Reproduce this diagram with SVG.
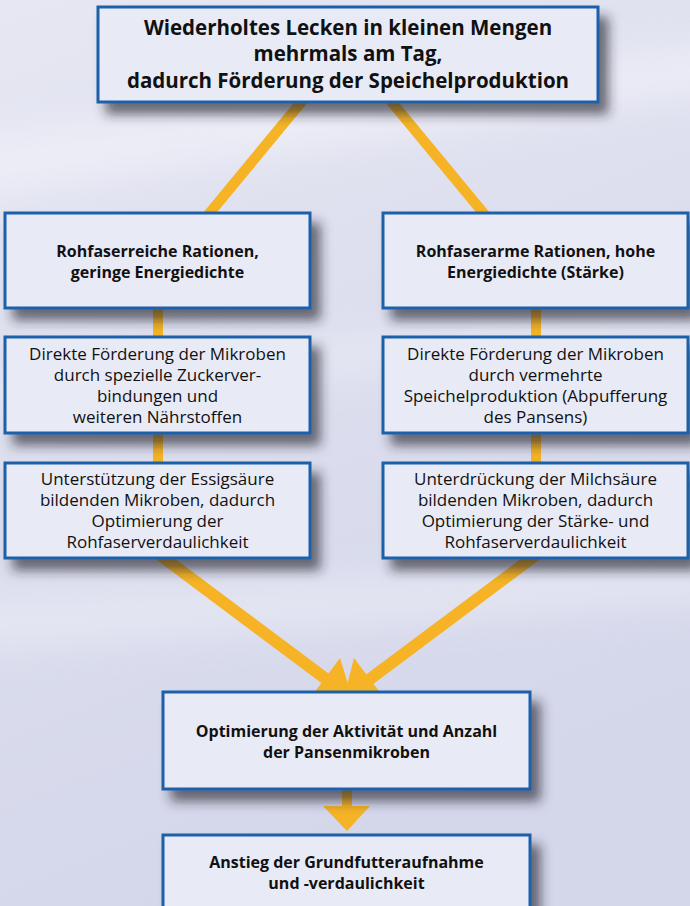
<svg xmlns="http://www.w3.org/2000/svg" width="690" height="906" viewBox="0 0 690 906">
<defs>
  <linearGradient id="bg" x1="0" y1="0" x2="0.3" y2="1">
    <stop offset="0" stop-color="#e6e7f2"/>
    <stop offset="0.5" stop-color="#dcdeee"/>
    <stop offset="1" stop-color="#d4d7ea"/>
  </linearGradient>
  <filter id="blur" x="-20%" y="-20%" width="140%" height="140%">
    <feGaussianBlur stdDeviation="18"/>
  </filter>
  <filter id="shadow" x="-10%" y="-20%" width="130%" height="160%">
    <feDropShadow dx="9" dy="11" stdDeviation="6" flood-color="#25252f" flood-opacity="0.65"/>
  </filter>
  <style>
    .box { fill: #e8eaf6; stroke: #1b60aa; stroke-width: 3; }
    .conn { fill: #f5b325; stroke: none; }
    .line { stroke: #f5b325; fill: none; }
    text { font-family: "Open Sans", "Noto Sans", "DejaVu Sans", sans-serif; fill: #111; text-anchor: middle; }
    .b { font-weight: bold; font-size: 16px; }
    .r { font-size: 17px; }
    .t { font-weight: bold; font-size: 20.5px; }
  </style>
</defs>

<rect x="0" y="0" width="690" height="906" fill="url(#bg)"/>
<g opacity="0.55" filter="url(#blur)">
  <path d="M-50 140 L740 40 L740 90 L-50 200 Z" fill="#f4f4fa"/>
  <path d="M-50 600 L740 560 L740 600 L-50 650 Z" fill="#eeeff8"/>
  <path d="M-50 380 L740 300 L740 330 L-50 420 Z" fill="#eeeff8"/>
</g>

<g id="connectors">
  <line class="line" x1="303" y1="100" x2="208" y2="215" stroke-width="10.5"/>
  <line class="line" x1="390" y1="100" x2="485" y2="215" stroke-width="10.5"/>
  <rect class="conn" x="153" y="306" width="10" height="33"/>
  <rect class="conn" x="153" y="431" width="10" height="34"/>
  <rect class="conn" x="531" y="306" width="10" height="33"/>
  <rect class="conn" x="531" y="431" width="10" height="34"/>
  <line class="line" x1="140" y1="540" x2="330" y2="682" stroke-width="12"/>
  <polygon class="conn" points="352,697 340,658 311,697"/>
  <line class="line" x1="556" y1="540" x2="366" y2="682" stroke-width="12"/>
  <polygon class="conn" points="344,697 354,658 384,698"/>
  <rect class="conn" x="342" y="787" width="10" height="20"/>
  <polygon class="conn" points="323,806 370,806 347,831"/>
</g>

<g id="n-top">
  <rect class="box" x="98" y="7" width="500" height="95" filter="url(#shadow)"/>
  <text class="t" x="348" y="35">Wiederholtes Lecken in kleinen Mengen</text>
  <text class="t" x="348" y="61">mehrmals am Tag,</text>
  <text class="t" x="348" y="88">dadurch Förderung der Speichelproduktion</text>
</g>

<g id="n-l1">
  <rect class="box" x="5" y="213" width="305" height="95" filter="url(#shadow)"/>
  <text class="b" x="157.5" y="257">Rohfaserreiche Rationen,</text>
  <text class="b" x="157.5" y="278">geringe Energiedichte</text>
</g>
<g id="n-l2">
  <rect class="box" x="5" y="337" width="305" height="96" filter="url(#shadow)"/>
  <text class="r" x="157.5" y="360">Direkte Förderung der Mikroben</text>
  <text class="r" x="157.5" y="381">durch spezielle Zuckerver-</text>
  <text class="r" x="157.5" y="402">bindungen und</text>
  <text class="r" x="157.5" y="423">weiteren Nährstoffen</text>
</g>
<g id="n-l3">
  <rect class="box" x="5" y="463" width="305" height="95" filter="url(#shadow)"/>
  <text class="r" x="157.5" y="485">Unterstützung der Essigsäure</text>
  <text class="r" x="157.5" y="506">bildenden Mikroben, dadurch</text>
  <text class="r" x="157.5" y="527">Optimierung der</text>
  <text class="r" x="157.5" y="548">Rohfaserverdaulichkeit</text>
</g>

<g id="n-r1">
  <rect class="box" x="383" y="213" width="305" height="95" filter="url(#shadow)"/>
  <text class="b" x="535.5" y="257">Rohfaserarme Rationen, hohe</text>
  <text class="b" x="535.5" y="278">Energiedichte (Stärke)</text>
</g>
<g id="n-r2">
  <rect class="box" x="383" y="337" width="305" height="96" filter="url(#shadow)"/>
  <text class="r" x="535.5" y="360">Direkte Förderung der Mikroben</text>
  <text class="r" x="535.5" y="381">durch vermehrte</text>
  <text class="r" x="535.5" y="402">Speichelproduktion (Abpufferung</text>
  <text class="r" x="535.5" y="423">des Pansens)</text>
</g>
<g id="n-r3">
  <rect class="box" x="383" y="463" width="305" height="95" filter="url(#shadow)"/>
  <text class="r" x="535.5" y="485">Unterdrückung der Milchsäure</text>
  <text class="r" x="535.5" y="506">bildenden Mikroben, dadurch</text>
  <text class="r" x="535.5" y="527">Optimierung der Stärke- und</text>
  <text class="r" x="535.5" y="548">Rohfaserverdaulichkeit</text>
</g>

<g id="n-opt">
  <rect class="box" x="163" y="692" width="367" height="97" filter="url(#shadow)"/>
  <text class="b" x="346.5" y="737">Optimierung der Aktivität und Anzahl</text>
  <text class="b" x="346.5" y="758">der Pansenmikroben</text>
</g>
<g id="n-end">
  <rect class="box" x="163" y="835" width="367" height="90" filter="url(#shadow)"/>
  <text class="b" x="346.5" y="868">Anstieg der Grundfutteraufnahme</text>
  <text class="b" x="346.5" y="889">und -verdaulichkeit</text>
</g>
</svg>
